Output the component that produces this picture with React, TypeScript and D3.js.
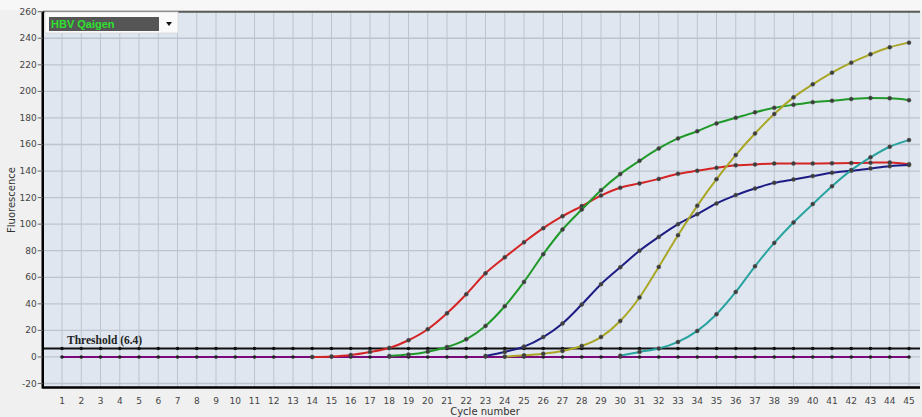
import React from "react";
import * as d3 from "d3";

const W = 922;
const H = 417;

const cycles = d3.range(1, 46);
const yTicks = d3.range(-20, 261, 20);
const threshold = 6.4;

const redStart = 14;
const redValues = [0, 0.4, 1.5, 3.8, 6.8, 12.6, 20.9, 32.9, 47.2, 63, 75, 86.4, 97, 106, 113.6, 121.5, 127.4, 130.7, 134.1, 137.9, 140.2, 142.4, 144.3, 145, 145.7, 145.7, 145.7, 145.8, 146, 146.3, 146.5, 145.2];

const greenStart = 18;
const greenValues = [0.8, 1.8, 4, 7.5, 13.3, 23.4, 38.2, 56.5, 77.4, 96, 111, 125.6, 137.7, 147.7, 157, 164.6, 170, 175.9, 180.1, 184.2, 187.6, 189.9, 191.9, 192.9, 194.2, 195, 194.8, 193.4];

const blueStart = 23;
const blueValues = [0.8, 3.8, 7.8, 15, 25.2, 39.5, 54.8, 67.5, 80, 90.4, 100, 107.5, 115.6, 121.9, 126.9, 131.1, 133.7, 136.2, 138.7, 140.2, 142, 143.7, 144.5];

const yellowStart = 24;
const yellowValues = [0.3, 1.2, 2.5, 4.5, 8.3, 15, 27.1, 44.8, 67.8, 91.7, 113.8, 133.9, 152, 168.3, 182.9, 195.5, 205.3, 214.1, 221.6, 227.9, 233.2, 236.7];

const tealStart = 30;
const tealValues = [1, 3.8, 6.3, 11.3, 19.6, 32.2, 49, 68.3, 85.9, 101.3, 115.1, 128.6, 140.7, 150.3, 158.3, 163.3];

const seriesList = [
  { name: "red", start: redStart, values: redValues, color: "#d42424" },
  { name: "green", start: greenStart, values: greenValues, color: "#1f9a28" },
  { name: "blue", start: blueStart, values: blueValues, color: "#1c1c84" },
  { name: "yellow", start: yellowStart, values: yellowValues, color: "#a9a626" },
  { name: "teal", start: tealStart, values: tealValues, color: "#27a3a0" },
];

const plot = { left: 42.75, right: 920, top: 11.7, bottom: 387.5 };

export default function App() {
  const x = d3
    .scaleLinear()
    .domain([0, (plot.right - plot.left) / 19.25])
    .range([plot.left, plot.right]);
  const y = d3.scaleLinear().domain([-23, 260]).range([plot.bottom, plot.top]);

  const line = d3
    .line<[number, number]>()
    .x((d) => x(d[0]))
    .y((d) => y(d[1]))
    .curve(d3.curveMonotoneX);

  const vGrid = d3.range(0, 46);
  const font = "Tahoma, 'DejaVu Sans', 'Liberation Sans', sans-serif";

  return (
    <svg
      width={W}
      height={H}
      style={{ position: "absolute", left: 0, top: 0, background: "#f0f0f0" }}
    >
      <rect x={0} y={0} width={W} height={10} fill="#f7f7f7" />
      <rect
        x={plot.left}
        y={plot.top}
        width={plot.right - plot.left}
        height={plot.bottom - plot.top}
        fill="#dfe6ef"
      />
      {vGrid.map((c) => (
        <line
          key={"vg" + c}
          x1={x(c)}
          x2={x(c)}
          y1={plot.top}
          y2={plot.bottom}
          stroke="#bcc4cf"
          strokeWidth={1}
        />
      ))}
      {yTicks.map((t) => (
        <line
          key={"hg" + t}
          x1={plot.left}
          x2={plot.right}
          y1={y(t)}
          y2={y(t)}
          stroke="#bcc4cf"
          strokeWidth={1.3}
        />
      ))}
      {/* top border */}
      <line x1={plot.left} x2={plot.right} y1={plot.top} y2={plot.top} stroke="#5a5a5a" strokeWidth={2} />

      {/* baseline purple */}
      <path
        d={line(cycles.map((c) => [c, 0]))!}
        fill="none"
        stroke="#7a0a7a"
        strokeWidth={2}
      />
      {cycles.map((c) => (
        <circle key={"pd" + c} cx={x(c)} cy={y(0)} r={1.8} fill="#222" />
      ))}

      {/* threshold */}
      <line
        x1={plot.left}
        x2={plot.right}
        y1={y(threshold)}
        y2={y(threshold)}
        stroke="#111"
        strokeWidth={2}
      />
      {cycles.map((c) => (
        <circle key={"td" + c} cx={x(c)} cy={y(threshold)} r={1.8} fill="#111" />
      ))}
      <text
        x={67}
        y={y(threshold) - 4}
        fontFamily="'Liberation Serif', 'DejaVu Serif', serif"
        fontWeight="bold"
        fontSize={11.5}
        fill="#222"
      >
        Threshold (6.4)
      </text>

      {seriesList.map((s) => {
        const pts: [number, number][] = s.values.map((v, i) => [s.start + i, v]);
        return (
          <g key={s.name}>
            <path d={line(pts)!} fill="none" stroke={s.color} strokeWidth={2} />
            {pts.map((p, i) => (
              <circle
                key={i}
                cx={x(p[0])}
                cy={y(p[1])}
                r={2}
                fill="#3c3c3c"
                stroke="#555"
                strokeWidth={0.5}
              />
            ))}
          </g>
        );
      })}

      {/* axes */}
      <line x1={plot.left} x2={plot.left} y1={plot.top} y2={plot.bottom + 1} stroke="#000" strokeWidth={2.5} />
      <line x1={plot.left} x2={plot.right} y1={plot.bottom} y2={plot.bottom} stroke="#000" strokeWidth={2.5} />

      {yTicks.map((t) => (
        <g key={"yt" + t}>
          <line x1={plot.left - 5} x2={plot.left} y1={y(t)} y2={y(t)} stroke="#666" />
          <text
            x={plot.left - 6}
            y={y(t) + 3}
            textAnchor="end"
            fontFamily={font}
            fontSize={9}
            fill="#444"
          >
            {t}
          </text>
        </g>
      ))}
      {cycles.map((c) => (
        <text
          key={"xt" + c}
          x={x(c)}
          y={404}
          textAnchor="middle"
          fontFamily={font}
          fontSize={9}
          fill="#444"
        >
          {c}
        </text>
      ))}
      <text x={485} y={415} textAnchor="middle" fontFamily={font} fontSize={10} fill="#333">
        Cycle number
      </text>
      <text
        transform={`translate(15, 200) rotate(-90)`}
        textAnchor="middle"
        fontFamily={font}
        fontSize={10}
        fill="#333"
      >
        Fluorescence
      </text>

      {/* legend dropdown */}
      <rect x={45} y={12} width={133} height={21} fill="#fafafa" stroke="#d8d8d8" strokeWidth={0.8} />
      <rect x={49} y={17} width={110} height={14} fill="#555555" />
      <text
        x={51}
        y={28}
        fontFamily="Arial, 'Liberation Sans', sans-serif"
        fontWeight="bold"
        fontSize={11}
        fill="#2fe02f"
      >
        HBV Qaigen
      </text>
      <path d="M166,22 L172,22 L169,26 Z" fill="#111" />
    </svg>
  );
}
